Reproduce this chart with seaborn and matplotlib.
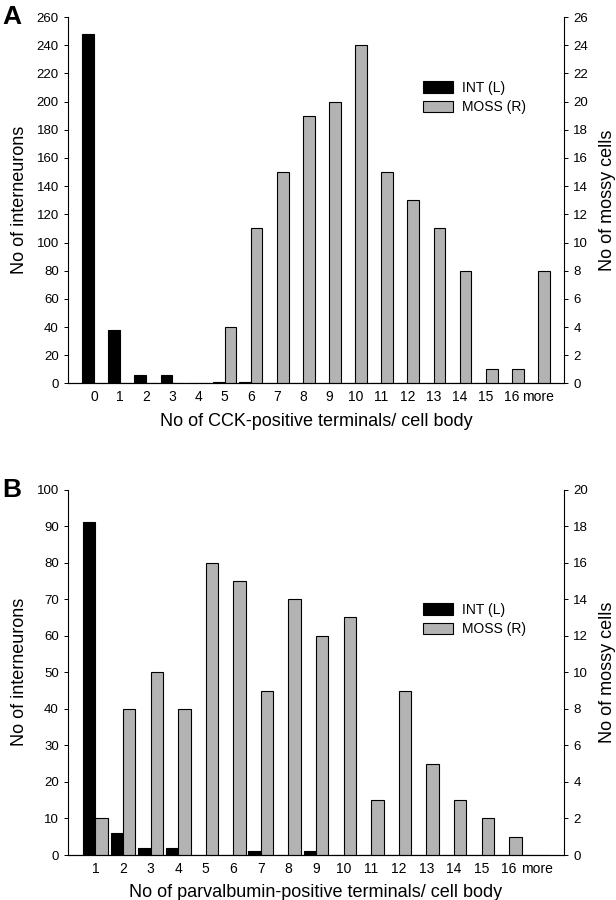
import pandas as pd
import matplotlib
matplotlib.use("Agg")
import matplotlib.pyplot as plt
from matplotlib.patches import Patch
import seaborn as sns

# Panel A data (CCK-positive terminals)
cats_a = [str(i) for i in range(17)] + ["more"]
int_a = [248, 38, 6, 6, 0, 0.7, 1, 0.4, 0.4, 0, 0, 0, 0, 0, 0, 0, 0, 0]
moss_a = [0, 0, 0, 0, 0, 4, 11, 15, 19, 20, 24, 15, 13, 11, 8, 1, 1, 8]

# Panel B data (parvalbumin-positive terminals)
cats_b = [str(i) for i in range(1, 17)] + ["more"]
int_b = [91, 6, 2, 2, 0, 0, 1, 0, 1, 0, 0, 0, 0, 0, 0, 0, 0]
moss_b = [2, 8, 10, 8, 16, 15, 9, 14, 12, 13, 3, 9, 5, 3, 2, 1, 0]

levels = ["INT (L)", "MOSS (R)"]
colors = {"INT (L)": "black", "MOSS (R)": "#b3b3b3"}

sns.set_style("ticks", {"text.color": "black", "axes.labelcolor": "black",
                        "xtick.color": "black", "ytick.color": "black",
                        "axes.edgecolor": "black"})
plt.rcParams["font.family"] = ["Liberation Sans", "DejaVu Sans"]

fig = plt.figure(figsize=(6.16, 9), dpi=100)
ax_a = fig.add_axes([0.110, 0.574, 0.806, 0.407])
ax_b = fig.add_axes([0.110, 0.050, 0.806, 0.406])


def draw_panel(ax, cats, ints, moss, ymax_l, ymax_r, step_l, xlabel, letter, leg_y):
    df_int = pd.DataFrame({"cat": cats, "val": ints, "grp": levels[0]})
    df_moss = pd.DataFrame({"cat": cats, "val": moss, "grp": levels[1]})

    sns.barplot(data=df_int, x="cat", y="val", hue="grp", hue_order=levels,
                palette=colors, dodge=True, width=0.9, order=cats,
                edgecolor="black", linewidth=0.8, legend=False, ax=ax)
    ax2 = ax.twinx()
    sns.barplot(data=df_moss, x="cat", y="val", hue="grp", hue_order=levels,
                palette=colors, dodge=True, width=0.9, order=cats,
                edgecolor="black", linewidth=0.8, legend=False, ax=ax2)

    n = len(cats)
    ax.set_xlim(-1, n)
    ax.set_ylim(0, ymax_l)
    ax2.set_ylim(0, ymax_r)
    ax.set_yticks(range(0, ymax_l + 1, step_l))
    ax2.set_yticks(range(0, ymax_r + 1, 2))

    ax.set_ylabel("No of interneurons", fontsize=13, labelpad=6)
    ax2.set_ylabel("No of mossy cells", fontsize=13, labelpad=8)
    ax.set_xlabel(xlabel, fontsize=13, labelpad=6)
    ax2.set_xlabel("")

    for a in (ax, ax2):
        a.tick_params(axis="y", labelsize=9.5, length=3, width=0.7, direction="out")
        a.tick_params(axis="x", labelsize=10, length=0, pad=5)
        for s in a.spines.values():
            s.set_linewidth(0.8)
        a.spines["top"].set_visible(False)
    ax.spines["right"].set_visible(False)
    ax2.spines["left"].set_visible(False)

    handles = [Patch(facecolor=colors[l], edgecolor="black", linewidth=0.8) for l in levels]
    ax2.legend(handles, levels, loc="upper left", bbox_to_anchor=(0.69, leg_y),
               frameon=False, fontsize=10, handlelength=2.2, handleheight=0.9,
               labelspacing=0.4, handletextpad=0.6)

    pos = ax.get_position()
    fig.text(0.004, pos.y1, letter, fontsize=19, fontweight="bold",
             va="center", ha="left")


draw_panel(ax_a, cats_a, int_a, moss_a, 260, 26, 20,
           "No of CCK-positive terminals/ cell body", "A", 0.86)
draw_panel(ax_b, cats_b, int_b, moss_b, 100, 20, 10,
           "No of parvalbumin-positive terminals/ cell body", "B", 0.725)

fig.savefig("out.png", dpi=100)
